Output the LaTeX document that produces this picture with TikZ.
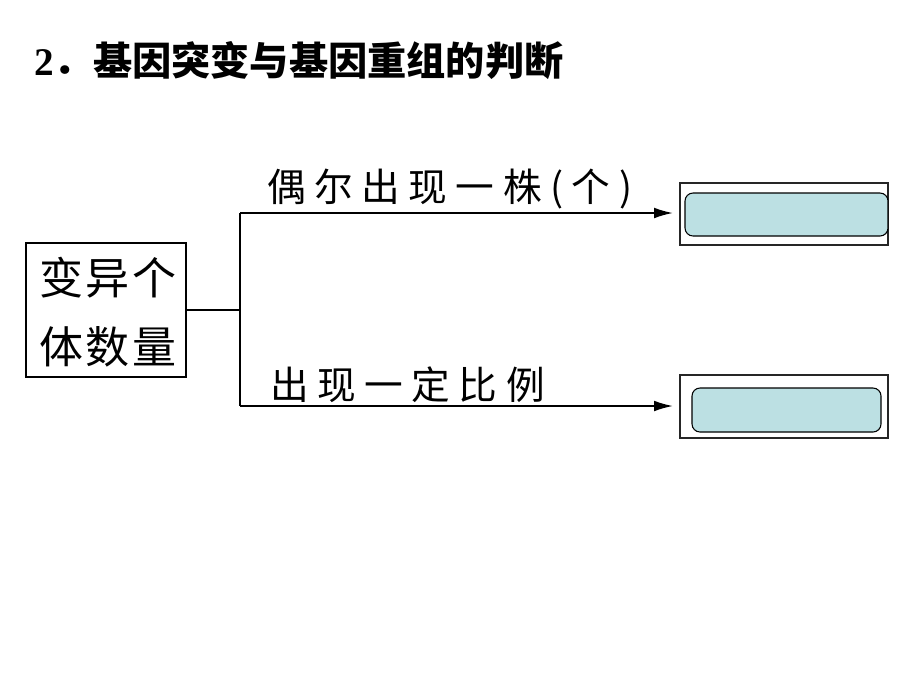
\documentclass[tikz,border=0pt]{standalone}
\usepackage{fontspec}
\setmainfont{Liberation Serif}
\newfontfamily\cjk{Noto Sans CJK SC}
\newfontfamily\cjkbox{Noto Sans CJK SC}[LetterSpace=6]
\newfontfamily\cjklab{Noto Sans CJK SC}[LetterSpace=22]
\usetikzlibrary{arrows.meta}
\definecolor{fillteal}{HTML}{BCE0E3}
\tikzset{
  wire/.style={line width=1.1pt, black},
  arr/.style={wire, -{Latex[length=14pt,width=8pt]}, shorten >=5pt},
  outerbox/.style={draw=black!85, line width=0.8pt, fill=white, inner sep=0pt},
  innerbox/.style={draw=black, line width=0.8pt, fill=fillteal, rounded corners=6pt, inner sep=0pt},
  srcbox/.style={draw=black, line width=0.9pt, inner sep=0pt},
  boxtext/.style={inner sep=0pt, font=\cjkbox\fontsize{33pt}{33pt}\selectfont},
  labtext/.style={inner sep=0pt, anchor=west, font=\cjklab\fontsize{29pt}{29pt}\selectfont},
}
\begin{document}
\begin{tikzpicture}[x=0.75pt,y=-0.75pt]
\useasboundingbox (0,0) rectangle (920,690);
% title
\node[anchor=west, inner sep=0pt] (title) at (34,61)
  {\fontsize{29.4pt}{30pt}\selectfont\textbf{2}{\cjk\bfseries ．基因突变与基因重组的判断}};
% source box
\node[srcbox, minimum width=120pt, minimum height=100.5pt] (src) at (106,310) {};
\node[boxtext] (t1) at (108,278) {变异个};
\node[boxtext] (t2) at (108,347) {体数量};
% junction
\coordinate (j) at (240,310);
\coordinate (jt) at (240,213);
\coordinate (jb) at (240,406);
% result boxes
\node[outerbox, minimum width=156pt, minimum height=46.5pt] (oT) at (784,214) {};
\node[innerbox, minimum width=152.25pt, minimum height=32.25pt] (iT) at (786.5,214.5) {};
\node[outerbox, minimum width=156pt, minimum height=47.25pt] (oB) at (784,406.5) {};
\node[innerbox, minimum width=141.75pt, minimum height=33pt] (iB) at (786.5,410) {};
% connectors
\draw[wire] (src.east) -- (j);
\draw[wire] (jt) -- (jb);
\draw[arr] (jt) -- (oT.west |- jt);
\draw[arr] (jb) -- (oB.west |- jb);
% labels
\node[labtext] (l1) at (267,189) {偶尔出现一株(个)};
\node[labtext] (l2) at (270,385) {出现一定比例};
\end{tikzpicture}
\end{document}
